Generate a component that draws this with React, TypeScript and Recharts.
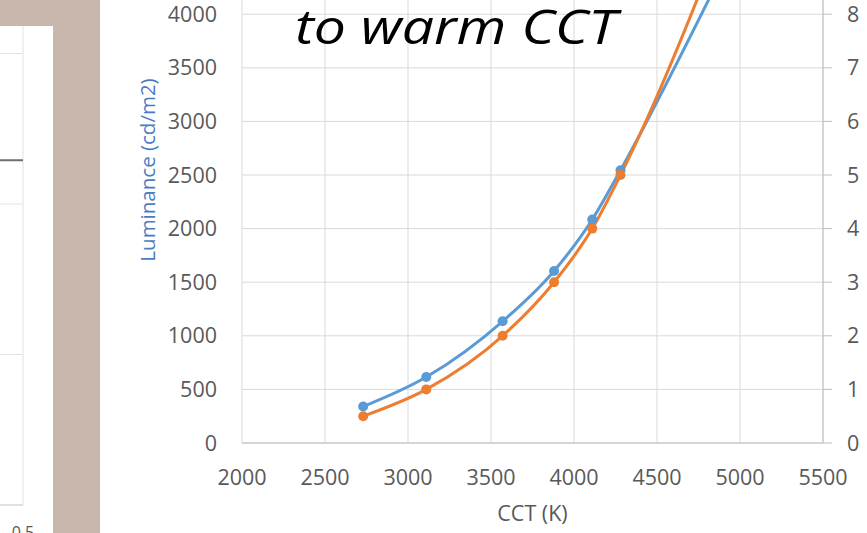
import { CartesianGrid, Label, Line, LineChart, XAxis, YAxis } from "recharts";

// main chart: luminance (left axis) and the orange series (right axis) against CCT
const cct = [2730, 3110, 3570, 3880, 4110, 4280, 4950];
const luminance = [340, 615, 1135, 1605, 2085, 2545, 4570];
const rightSeries = [0.5, 1, 2, 3, 4, 5, 9.9];

const cctTicks = [2000, 2500, 3000, 3500, 4000, 4500, 5000, 5500];
const luminanceTicks = [0, 500, 1000, 1500, 2000, 2500, 3000, 3500, 4000, 4500, 5000];
const rightTicks = [0, 1, 2, 3, 4, 5, 6, 7, 8, 9, 10];

// sliver of the neighbouring chart on the left of the slide
const sideX = [0, 0.5];
const sideLevel = [2.29, 2.29];
const sideYTicks = [0, 1, 2, 3, 4];
const sideXTicks = [0.5];

const rows = cct.map((c, i) => ({ cct: c, lum: luminance[i], ratio: rightSeries[i] }));
const sideRows = sideX.map((x, i) => ({ x, level: sideLevel[i] }));

const BLUE = "#5b9bd5";
const ORANGE = "#ed7d31";
const GRID = "#d9d9d9";
const AXIS = "#bfbfbf";
const TEXT = "#595959";
const FONT = "'Open Sans', sans-serif";

const tickStyle = { fill: TEXT, fontSize: 21.5, fontFamily: FONT };

function YTitle(props: any) {
  const { x, y, height } = props.viewBox;
  const cx = x + 47;
  const cy = y + height / 2 - 5;
  return (
    <text
      x={cx}
      y={cy}
      transform={`rotate(-90, ${cx}, ${cy})`}
      textAnchor="middle"
      dominantBaseline="central"
      fill="#4a7cc4"
      fontSize={20.5}
      fontFamily={FONT}
    >
      Luminance (cd/m2)
    </text>
  );
}

function XTitle(props: any) {
  const { x, y, width } = props.viewBox;
  return (
    <text x={x + width / 2} y={y + 78} textAnchor="middle" fill={TEXT} fontSize={21.5} fontFamily={FONT}>
      CCT (K)
    </text>
  );
}

export default function App() {
  return (
    <div
      style={{
        position: "absolute",
        left: 0,
        top: 0,
        width: 867,
        height: 533,
        overflow: "hidden",
        background: "#ffffff",
        fontFamily: FONT,
      }}
    >
      {/* slide background strip */}
      <div style={{ position: "absolute", left: 0, top: 0, width: 100, height: 533, background: "#c8b7ad" }} />

      {/* left neighbour chart */}
      <div
        style={{
          position: "absolute",
          left: 0,
          top: 26,
          width: 53,
          height: 507,
          overflow: "hidden",
          background: "#ffffff",
        }}
      >
        <div style={{ position: "absolute", left: -197, top: -150 }}>
          <LineChart width={250} height={669} data={sideRows} margin={{ top: 27, right: 30, bottom: 0, left: 0 }}>
            <CartesianGrid stroke="#e2e2e2" />
            <XAxis
              dataKey="x"
              type="number"
              domain={[0, 0.5]}
              ticks={sideXTicks}
              height={40}
              axisLine={{ stroke: "#d0d0d0" }}
              tickLine={false}
              tickSize={0}
              tickMargin={22}
              tick={{ fill: TEXT, fontSize: 16, fontFamily: FONT }}
            />
            <YAxis hide domain={[0, 4]} ticks={sideYTicks} />
            <Line dataKey="level" stroke="#6f6f6f" strokeWidth={2} dot={false} isAnimationActive={false} />
          </LineChart>
        </div>
      </div>

      {/* main chart, taller than the visible area: its top is cut off */}
      <div style={{ position: "absolute", left: 100, top: -120 }}>
        <LineChart width={767} height={653} data={rows} margin={{ top: 27, right: 0, bottom: 0, left: 0 }}>
          <CartesianGrid yAxisId="lum" stroke={GRID} />
          <XAxis
            dataKey="cct"
            type="number"
            domain={[2000, 5500]}
            ticks={cctTicks}
            height={90}
            axisLine={{ stroke: AXIS }}
            tickLine={false}
            tickSize={0}
            tickMargin={27}
            tick={tickStyle}
          >
            <Label content={XTitle} />
          </XAxis>
          <YAxis
            yAxisId="lum"
            orientation="left"
            width={142}
            domain={[0, 5000]}
            ticks={luminanceTicks}
            allowDataOverflow
            axisLine={false}
            tickLine={false}
            tickSize={0}
            tickMargin={25}
            tick={tickStyle}
          >
            <Label content={YTitle} />
          </YAxis>
          <YAxis
            yAxisId="ratio"
            orientation="right"
            width={44}
            domain={[0, 10]}
            ticks={rightTicks}
            allowDataOverflow
            axisLine={{ stroke: AXIS }}
            tickLine={{ stroke: AXIS }}
            tickSize={9}
            tickMargin={15}
            tick={tickStyle}
          />
          <Line
            yAxisId="lum"
            dataKey="lum"
            type="monotone"
            stroke={BLUE}
            strokeWidth={3}
            dot={{ r: 5, fill: BLUE, stroke: BLUE, strokeWidth: 0 }}
            isAnimationActive={false}
          />
          <Line
            yAxisId="ratio"
            dataKey="ratio"
            type="monotone"
            stroke={ORANGE}
            strokeWidth={3}
            dot={{ r: 5, fill: ORANGE, stroke: ORANGE, strokeWidth: 0 }}
            isAnimationActive={false}
          />
        </LineChart>
      </div>

      {/* slide text box over the chart */}
      <div
        style={{
          position: "absolute",
          left: 295,
          top: 2,
          fontSize: 48,
          lineHeight: 1,
          fontStyle: "italic",
          color: "#000000",
          whiteSpace: "nowrap",
          transform: "scaleX(1.19)",
          transformOrigin: "left top",
        }}
      >
        to warm CCT
      </div>
    </div>
  );
}
